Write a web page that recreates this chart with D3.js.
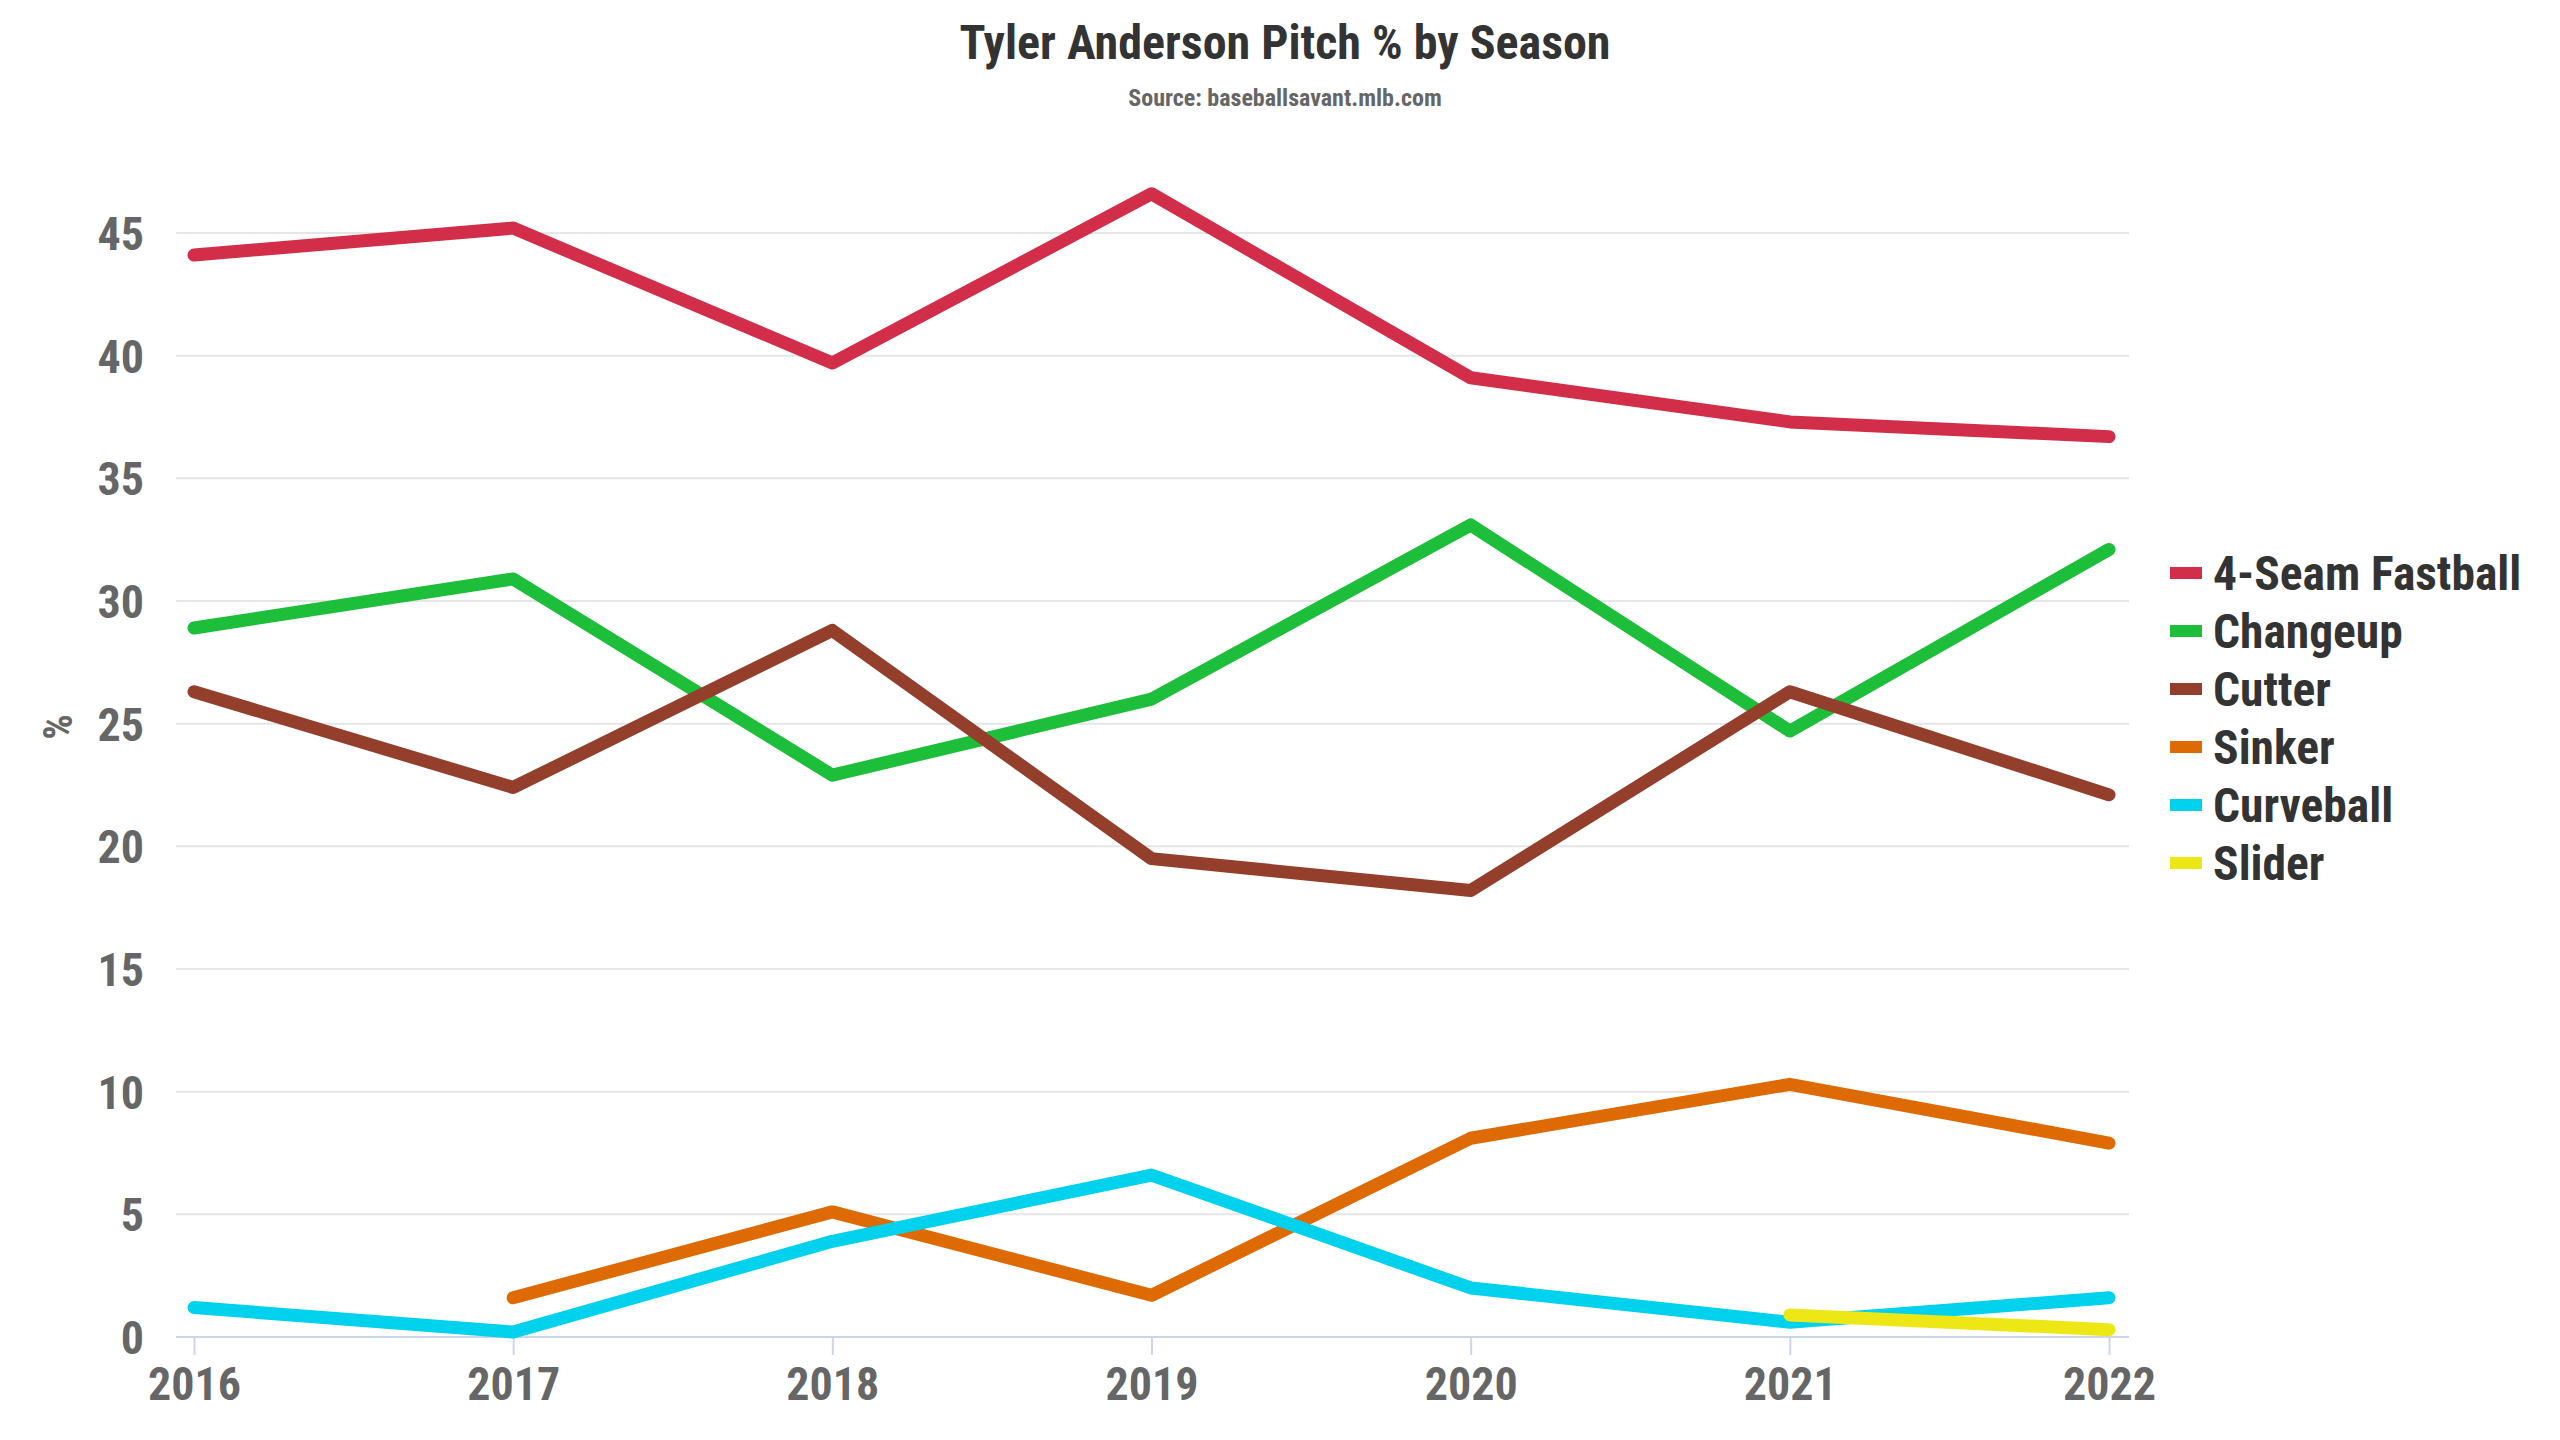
<!DOCTYPE html>
<html>
<head>
<meta charset="utf-8">
<script src="https://cdn.jsdelivr.net/npm/d3@7"></script>
<style>
  html, body { margin: 0; padding: 0; background: #fff; }
  svg text { font-family: "Roboto Condensed", "Liberation Sans Narrow", "DejaVu Sans Condensed", Roboto, sans-serif; font-weight: bold; }
</style>
</head>
<body>
<div id="chart"></div>
<script>
(function () {
    // Data
    const years = ["2016", "2017", "2018", "2019", "2020", "2021", "2022"];
    const pitchNames = ["4-Seam Fastball", "Changeup", "Cutter", "Sinker", "Curveball", "Slider"];
    const pitchColors = ["#d22d49", "#1dbe3a", "#933f2c", "#de6a04", "#00d1ed", "#eee716"];
    const fourSeam = [44.1, 45.2, 39.7, 46.6, 39.1, 37.3, 36.7];
    const changeup = [28.9, 30.9, 22.9, 26.0, 33.1, 24.7, 32.1];
    const cutter = [26.3, 22.4, 28.8, 19.5, 18.2, 26.3, 22.1];
    const sinker = [null, 1.6, 5.1, 1.7, 8.1, 10.3, 7.9];
    const curveball = [1.2, 0.2, 3.9, 6.6, 2.0, 0.6, 1.6];
    const slider = [null, null, null, null, null, 0.9, 0.3];
    const yTicks = [0, 5, 10, 15, 20, 25, 30, 35, 40, 45];

    const seriesValues = [fourSeam, changeup, cutter, sinker, curveball, slider];
    const series = pitchNames.map((name, i) => ({
        name: name,
        color: pitchColors[i],
        points: years.map((yr, j) => ({ year: yr, value: seriesValues[i][j] }))
    }));

    const W = 2560, H = 1440;
    const svg = d3.select("#chart")
        .append("svg")
        .attr("width", W)
        .attr("height", H)
        .attr("viewBox", `0 0 ${W} ${H}`);

    // Scales
    const x = d3.scalePoint().domain(years).range([194, 2109]);
    const y = d3.scaleLinear().domain([0, 45]).range([1337, 233]);
    const plotLeft = 176, plotRight = 2129;

    // Title
    svg.append("text")
        .attr("x", 1285).attr("y", 59)
        .attr("text-anchor", "middle")
        .style("font-size", "48px")
        .style("fill", "#333333")
        .text("Tyler Anderson Pitch % by Season");

    svg.append("text")
        .attr("x", 1285).attr("y", 106)
        .attr("text-anchor", "middle")
        .style("font-size", "24px")
        .style("fill", "#666666")
        .text("Source: baseballsavant.mlb.com");

    // Grid lines
    svg.append("g")
        .selectAll("line")
        .data(yTicks.filter(d => d > 0))
        .enter().append("line")
        .attr("x1", plotLeft).attr("x2", plotRight)
        .attr("y1", d => y(d)).attr("y2", d => y(d))
        .attr("stroke", "#e6e6e6")
        .attr("stroke-width", 2);

    // Y axis labels
    const yAxis = svg.append("g")
        .attr("transform", `translate(${plotLeft},0)`)
        .call(d3.axisLeft(y).tickValues(yTicks).tickSize(0).tickPadding(32));
    yAxis.select(".domain").remove();
    yAxis.selectAll("text")
        .style("font-size", "46px")
        .style("fill", "#666666")
        .attr("dy", "0.36em");

    // X axis
    const xAxis = svg.append("g")
        .attr("transform", `translate(0,${y(0)})`)
        .call(d3.axisBottom(x).tickSize(18).tickPadding(16));
    xAxis.select(".domain")
        .attr("d", `M${plotLeft},0H${plotRight}`)
        .attr("stroke", "#ccd6eb")
        .attr("stroke-width", 2);
    xAxis.selectAll(".tick line")
        .attr("stroke", "#ccd6eb")
        .attr("stroke-width", 2);
    xAxis.selectAll("text")
        .style("font-size", "46px")
        .style("fill", "#666666")
        .attr("dy", "0.62em");

    // Y axis title
    svg.append("text")
        .attr("transform", "translate(72,727) rotate(-90)")
        .attr("text-anchor", "middle")
        .style("font-size", "40px")
        .style("fill", "#666666")
        .text("%");

    // Lines
    const line = d3.line()
        .defined(d => d.value !== null)
        .x(d => x(d.year))
        .y(d => y(d.value));

    svg.append("g")
        .selectAll("path")
        .data(series)
        .enter().append("path")
        .attr("d", d => line(d.points))
        .attr("fill", "none")
        .attr("stroke", d => d.color)
        .attr("stroke-width", 13)
        .attr("stroke-linecap", "round")
        .attr("stroke-linejoin", "round");

    // Legend
    const legend = svg.append("g")
        .selectAll("g")
        .data(series)
        .enter().append("g")
        .attr("transform", (d, i) => `translate(2170,${573 + i * 58})`);

    legend.append("rect")
        .attr("x", 0).attr("y", -6)
        .attr("width", 32).attr("height", 12)
        .attr("fill", d => d.color);

    legend.append("text")
        .attr("x", 43).attr("y", 0)
        .attr("dy", "0.36em")
        .style("font-size", "47.5px")
        .style("fill", "#333333")
        .text(d => d.name);
})();
</script>
</body>
</html>
